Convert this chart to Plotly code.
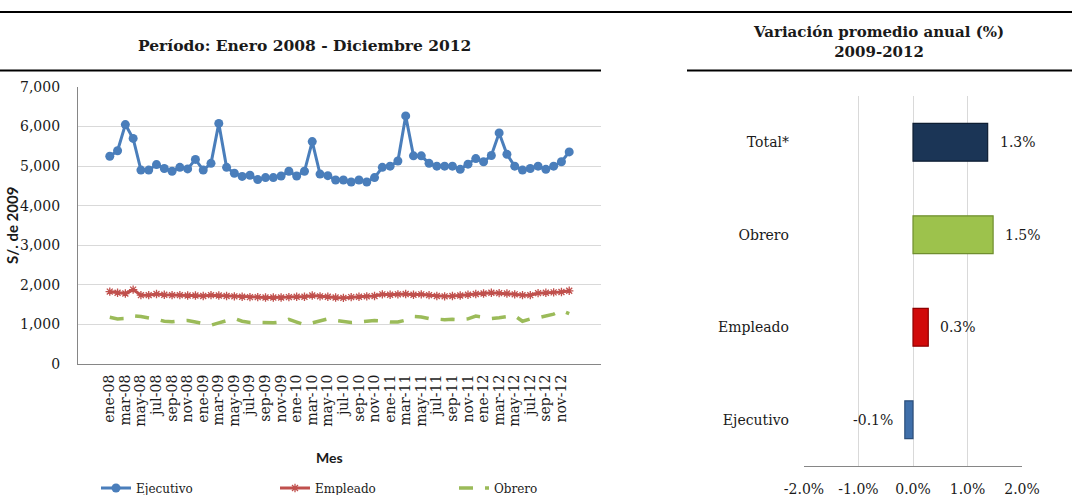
import plotly.graph_objects as go

# ---------------- data ----------------
meses = ["ene", "feb", "mar", "abr", "may", "jun", "jul", "ago", "sep", "oct", "nov", "dic"]
anios = ["08", "09", "10", "11", "12"]
categorias_mes = [f"{m}-{a}" for a in anios for m in meses]

ejecutivo = [5250, 5390, 6050, 5700, 4900, 4900, 5040, 4940, 4870, 4970, 4930, 5170,
             4900, 5070, 6080, 4970, 4820, 4740, 4770, 4660, 4710, 4710, 4750, 4870,
             4750, 4870, 5620, 4800, 4760, 4650, 4650, 4600, 4650, 4600, 4710, 4970,
             5000, 5130, 6270, 5260, 5260, 5070, 5000, 5000, 5000, 4920, 5050, 5190,
             5110, 5270, 5840, 5300, 5000, 4900, 4940, 5000, 4920, 5000, 5110, 5360]

empleado = [1830, 1800, 1780, 1880, 1740, 1740, 1770, 1750, 1740, 1740, 1730, 1730,
            1720, 1740, 1730, 1720, 1710, 1700, 1690, 1690, 1680, 1680, 1680, 1690,
            1700, 1700, 1730, 1710, 1700, 1680, 1670, 1690, 1700, 1710, 1720, 1760,
            1750, 1760, 1770, 1750, 1760, 1740, 1720, 1710, 1720, 1730, 1750, 1770,
            1780, 1800, 1790, 1780, 1760, 1740, 1740, 1790, 1800, 1810, 1820, 1850]

obrero = [1180, 1140, 1150, 1220, 1200, 1170, 1130, 1080, 1070, 1090, 1100, 1060,
          1020, 980, 1040, 1100, 1150, 1080, 1050, 1050, 1040, 1040, 1060, 1130,
          1060, 990, 1040, 1100, 1140, 1100, 1070, 1050, 1060, 1090, 1100, 1090,
          1060, 1060, 1110, 1200, 1190, 1150, 1130, 1120, 1130, 1120, 1140, 1210,
          1180, 1150, 1170, 1200, 1220, 1080, 1140, 1170, 1210, 1260, 1350, 1270]

y_ticks = [0, 1000, 2000, 3000, 4000, 5000, 6000, 7000]

cat_barras = ["Ejecutivo", "Empleado", "Obrero", "Total*"]
var_barras = [-0.15, 0.28, 1.47, 1.37]
etiquetas_barras = ["-0.1%", "0.3%", "1.5%", "1.3%"]
x_ticks_barras = [-2, -1, 0, 1, 2]
x_ticktext_barras = ["-2.0%", "-1.0%", "0.0%", "1.0%", "2.0%"]
colores_barras = ["#3F6FAA", "#D10A0A", "#9DC24C", "#1B3556"]
bordes_barras = ["#2C4F7C", "#8E0000", "#6F8E2E", "#0E1E33"]

# ---------------- layout helpers ----------------
W, H = 1072, 495
def px(x):
    return x / W
def py(y):
    return 1 - y / H

SERIF = "DejaVu Serif"
SANS = "Lato"
TXT = "#1A1A1A"

fig = go.Figure()

fig.add_trace(go.Scatter(
    x=categorias_mes, y=ejecutivo, name="Ejecutivo", mode="lines+markers",
    line=dict(color="#4A7EBB", width=3), marker=dict(symbol="circle", size=9, color="#4A7EBB"),
    xaxis="x", yaxis="y"))
fig.add_trace(go.Scatter(
    x=categorias_mes, y=empleado, name="Empleado", mode="lines+markers",
    line=dict(color="#C0504D", width=3),
    marker=dict(symbol="asterisk", size=7, color="#C0504D", line=dict(color="#C0504D", width=1.3)),
    xaxis="x", yaxis="y"))
fig.add_trace(go.Scatter(
    x=categorias_mes, y=obrero, name="Obrero", mode="lines",
    line=dict(color="#9BBB59", width=3.5, dash="14px,12px"),
    xaxis="x", yaxis="y"))

fig.add_trace(go.Bar(
    y=cat_barras, x=var_barras, orientation="h", width=0.41,
    marker=dict(color=colores_barras, line=dict(color=bordes_barras, width=1.2)),
    showlegend=False, xaxis="x2", yaxis="y2"))

# value labels next to bars
for c, v, t in zip(cat_barras, var_barras, etiquetas_barras):
    fig.add_annotation(x=v, y=c, xref="x2", yref="y2", text=t, showarrow=False,
                       xanchor="left" if v >= 0 else "right", xshift=10 if v >= 0 else -10,
                       font=dict(family=SERIF, size=14, color=TXT))

left_dom_x = [px(78), px(601)]
left_dom_y = [py(364), py(87)]
right_dom_x = [px(804), px(1022)]
right_dom_y = [py(466), py(96)]

fig.update_layout(
    width=W, height=H, margin=dict(l=0, r=0, t=0, b=0, autoexpand=False),
    paper_bgcolor="white", plot_bgcolor="white",
    xaxis=dict(domain=left_dom_x, anchor="y", type="category", categoryorder="array",
               categoryarray=categorias_mes, dtick=2, tickangle=-90,
               tickfont=dict(family=SERIF, size=14, color=TXT),
               showline=True, linecolor="#868686", linewidth=1.2, showgrid=False,
               ticks="", ticklabelstandoff=4, automargin=False),
    yaxis=dict(domain=left_dom_y, anchor="x", range=[0, 7000], tickvals=y_ticks,
               tickformat=",d", tickfont=dict(family=SERIF, size=14, color=TXT),
               showline=True, linecolor="#868686", linewidth=1.2,
               showgrid=True, gridcolor="#D9D9D9", gridwidth=1.3, zeroline=False,
               ticks="", ticklabelstandoff=14, automargin=False),
    xaxis2=dict(domain=right_dom_x, anchor="y2", range=[-2, 2], tickvals=x_ticks_barras,
                ticktext=x_ticktext_barras, tickfont=dict(family=SERIF, size=14, color=TXT),
                showgrid=True, gridcolor="#D9D9D9", gridwidth=1.3, zeroline=False,
                showline=True, linecolor="#868686", linewidth=1.2, ticks="",
                ticklabelstandoff=10, automargin=False),
    yaxis2=dict(domain=right_dom_y, anchor="x2", type="category", categoryorder="array",
                categoryarray=cat_barras, range=[-0.5, 3.5],
                tickfont=dict(family=SERIF, size=14, color=TXT), showgrid=False,
                showline=False, zeroline=False, ticks="", ticklabelstandoff=14,
                automargin=False),
    yaxis3=dict(overlaying="y2", anchor="free",
                position=right_dom_x[0] + (right_dom_x[1] - right_dom_x[0]) * (0 - (-2)) / 4,
                range=[-0.5, 3.5], tickvals=[0.5, 1.5, 2.5, 3.5], showticklabels=False,
                ticks="outside", ticklen=5, tickcolor="#868686", showline=True,
                linecolor="#868686", linewidth=1.2, showgrid=False, zeroline=False,
                automargin=False),
    legend=dict(orientation="h", x=px(96), y=py(488), xanchor="left", yanchor="middle",
                entrywidth=134, entrywidthmode="pixels",
                font=dict(family=SERIF, size=12, color=TXT), bgcolor="rgba(0,0,0,0)",
                tracegroupgap=0, itemsizing="trace"),
    showlegend=True,
)

# titles and axis titles
fig.add_annotation(x=px(304), y=py(45), xref="paper", yref="paper", showarrow=False,
                   text="<b>Período: Enero 2008 - Diciembre 2012</b>",
                   font=dict(family=SERIF, size=15.5, color=TXT), xanchor="center", yanchor="middle")
fig.add_annotation(x=px(878), y=py(42), xref="paper", yref="paper", showarrow=False,
                   text="<b>Variación promedio anual (%)<br>2009-2012</b>",
                   font=dict(family=SERIF, size=15, color=TXT), xanchor="center", yanchor="middle",
                   align="center")
fig.add_annotation(x=px(330), y=py(457), xref="paper", yref="paper", showarrow=False,
                   text="<b>Mes</b>", font=dict(family=SANS, size=14, color=TXT),
                   xanchor="center", yanchor="middle")
fig.add_annotation(x=px(12), y=py(226), xref="paper", yref="paper", showarrow=False,
                   text="<b>S/. de 2009</b>", textangle=-90,
                   font=dict(family=SANS, size=15, color=TXT), xanchor="center", yanchor="middle")

# horizontal rules
rule = dict(type="line", xref="paper", yref="paper", line=dict(color="black", width=2.2))
fig.add_shape(**rule, x0=0, x1=1, y0=py(12), y1=py(12))
fig.add_shape(**rule, x0=0, x1=px(601), y0=py(70.5), y1=py(70.5))
fig.add_shape(**rule, x0=px(687), x1=1, y0=py(70.5), y1=py(70.5))

fig.write_html("out.html", config={"displayModeBar": False},
               post_script="document.body.style.margin='0';document.body.style.overflow='hidden';")
